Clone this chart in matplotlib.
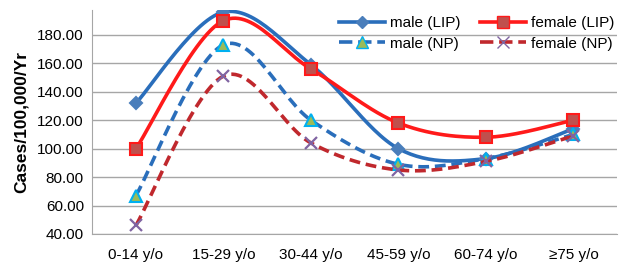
import numpy as np
import matplotlib.pyplot as plt

plt.rcParams['font.family'] = ['Liberation Sans', 'DejaVu Sans']

edades = ['0-14 y/o', '15-29 y/o', '30-44 y/o', '45-59 y/o', '60-74 y/o', '≥75 y/o']
male_lip = [132, 196, 159, 100, 93, 114]
female_lip = [100, 190, 156, 118, 108, 120]
male_np = [67, 173, 120, 89, 93, 110]
female_np = [46, 151, 104, 85, 91, 109]


def suavizar(x, y, n=30):
    # curva suave tipo Excel (Catmull-Rom en Bezier)
    x = np.asarray(x, float)
    y = np.asarray(y, float)
    px = np.concatenate([[x[0]], x, [x[-1]]])
    py = np.concatenate([[y[0]], y, [y[-1]]])
    xs, ys = [], []
    t = np.linspace(0, 1, n)
    for i in range(1, len(px) - 2):
        p0 = np.array([px[i], py[i]])
        p3 = np.array([px[i + 1], py[i + 1]])
        p1 = p0 + (np.array([px[i + 1], py[i + 1]]) - np.array([px[i - 1], py[i - 1]])) / 6
        p2 = p3 - (np.array([px[i + 2], py[i + 2]]) - np.array([px[i], py[i]])) / 6
        b = ((1 - t) ** 3)[:, None] * p0 + (3 * (1 - t) ** 2 * t)[:, None] * p1 \
            + (3 * (1 - t) * t ** 2)[:, None] * p2 + (t ** 3)[:, None] * p3
        xs.extend(b[:, 0])
        ys.extend(b[:, 1])
    return np.array(xs), np.array(ys)


fig = plt.figure(figsize=(6.19, 2.62), dpi=100)
ax = fig.add_axes([0.149, 0.107, 0.848, 0.855])

pos = np.arange(len(edades))

series = [
    (male_lip, 'male (LIP)', '#2a6ebb', '-', 'D', '#4a7ebb', '#4a7ebb', 6),
    (female_lip, 'female (LIP)', '#ff1a1a', '-', 's', '#c0504d', '#ff1a1a', 8),
    (male_np, 'male (NP)', '#2a6ebb', '--', '^', '#9bbb59', '#00b0f0', 8),
    (female_np, 'female (NP)', '#c0282d', '--', 'x', '#8064a2', '#8064a2', 8),
]

for vals, nombre, color, estilo, marca, relleno, borde, tam in series:
    sx, sy = suavizar(pos, vals)
    ax.plot(sx, sy, color=color, ls=estilo, lw=2.6, dashes=(3, 1.6) if estilo == '--' else (None, None))
    ax.plot(pos, vals, ls='none', marker=marca, ms=tam, mfc=relleno, mec=borde, mew=1.5 if marca != 'x' else 1.6)
    ax.plot([], [], color=color, ls=estilo, lw=2.6, marker=marca, ms=tam,
            mfc=relleno, mec=borde, label=nombre)

ax.set_xlim(-0.5, 5.5)
ax.set_ylim(40, 197.5)
ax.set_yticks(np.arange(40, 181, 20))
ax.set_yticklabels([f'{v:.2f}' for v in range(40, 181, 20)])
ax.set_xticks(pos)
ax.set_xticklabels(edades)
ax.tick_params(length=0, labelsize=11, pad=6)
ax.tick_params(axis='x', pad=10)
ax.grid(axis='y', color='#a6a6a6', lw=1)
ax.set_axisbelow(True)
for s in ['top', 'right']:
    ax.spines[s].set_visible(False)
for s in ['left', 'bottom']:
    ax.spines[s].set_color('#a6a6a6')
ax.set_ylabel('Cases/100,000/Yr', fontsize=12.5, fontweight='bold', labelpad=6)

h, l = ax.get_legend_handles_labels()
ax.legend([h[0], h[2], h[1], h[3]], [l[0], l[2], l[1], l[3]], ncol=2, loc='upper right',
          bbox_to_anchor=(1.02, 1.035), frameon=False, fontsize=11, handlelength=3.0,
          columnspacing=1.3, handletextpad=0.3, labelspacing=0.45)

fig.savefig('out.png', dpi=100)
